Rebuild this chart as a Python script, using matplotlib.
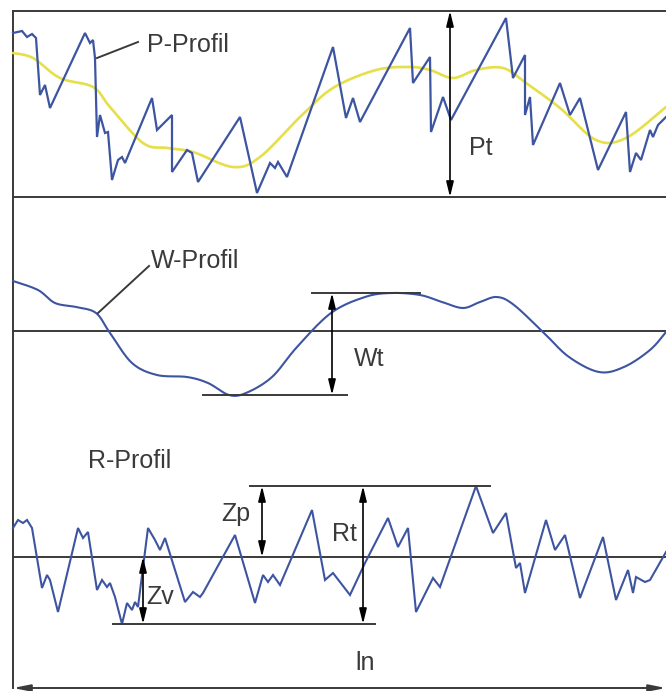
import numpy as np
import matplotlib
matplotlib.use('Agg')
import matplotlib.pyplot as plt

plt.rcParams['font.family'] = ['Liberation Sans', 'DejaVu Sans']

# ---- profile data (x along the trace, height relative to its reference line) ----
# P-profile (primary profile), height above panel floor
p_x = [13, 22, 27, 32, 36, 40, 45, 50, 85, 90, 93, 95, 97, 100, 105, 108,
       112, 118, 122, 125, 152, 157, 172, 172, 187, 192, 198, 240, 257, 270,
       275, 278, 287, 333, 346, 353, 360, 410, 413, 430, 431, 443, 451, 506,
       513, 525, 525, 530, 533, 560, 570, 580, 598, 626, 630, 636, 641, 650,
       653, 658, 666]
p_h = [164, 166, 160, 163, 159, 102, 112, 89, 164, 154, 157, 139, 60, 82, 64,
       65, 17, 37, 40, 34, 99, 67, 82, 25, 47, 44, 15, 80, 4, 34, 29, 35, 20,
       150, 79, 99, 75, 169, 114, 140, 65, 100, 77, 179, 119, 142, 82, 100, 52,
       114, 82, 99, 27, 85, 25, 44, 37, 67, 60, 72, 80]

# yellow mean / waviness line drawn in the P panel
pm_x = [13, 33, 60, 93, 110, 143, 167, 193, 233, 260, 300, 333, 376, 410,
        430, 453, 476, 503, 526, 560, 596, 626, 666]
pm_h = [144, 139, 119, 110, 90, 54, 49, 45, 30, 40, 80, 109, 127, 130, 127,
        119, 127, 129, 114, 89, 57, 59, 90]

# W-profile (waviness), height relative to mean line
w_x = [13, 38, 55, 76, 96, 110, 132, 157, 187, 208, 229, 246, 272, 297, 331,
       365, 391, 420, 442, 463, 480, 497, 514, 544, 569, 599, 624, 650, 666]
w_h = [50, 41, 28, 24, 18, -2, -32, -44, -46, -52, -64, -62, -46, -16, 18,
       34, 38, 36, 29, 23, 29, 34, 26, -2, -26, -41, -36, -19, -1]

# R-profile (roughness), height relative to mean line
r_x = [13, 18, 23, 27, 32, 42, 47, 50, 58, 78, 83, 88, 97, 102, 107, 110, 115,
       122, 127, 132, 135, 138, 148, 155, 160, 165, 185, 193, 200, 203, 235,
       255, 263, 268, 273, 280, 312, 325, 333, 350, 365, 388, 398, 408, 416,
       433, 440, 476, 493, 506, 516, 520, 525, 546, 555, 565, 580, 603, 616,
       628, 633, 636, 645, 650, 666]
r_h = [29, 37, 34, 37, 29, -31, -18, -23, -55, 29, 19, 25, -33, -23, -30, -26,
       -40, -67, -46, -53, -45, -50, 29, 17, 7, 19, -45, -35, -40, -36, 22,
       -46, -18, -25, -18, -28, 47, -23, -16, -38, -6, 39, 10, 29, -55, -21,
       -30, 71, 24, 44, -11, -6, -36, 37, 7, 22, -41, 20, -43, -13, -36, -20,
       -25, -23, 5]

# characteristic heights
pt_top, pt_bottom = 186, 0          # P panel: full height
wt_top, wt_bottom = 38, -64         # W: peak / valley
rp_top, rv_bottom = 71, -67         # R: highest peak / deepest valley

# ---- layout (pixel frame of the 666x691 picture) ----
W_PX, H_PX = 666, 691
LEFT, RIGHT = 13, 666
TOP = 11
P_FLOOR = 197
W_MEAN = 331
R_MEAN = 557
LN_Y = 688

BLUE = '#3d55a0'
YELLOW = '#e6df4a'
INK = '#3a3a3a'


def smooth(x, y, n=12):
    """Catmull-Rom pass through the read points, for drawing only."""
    x = np.asarray(x, float)
    y = np.asarray(y, float)
    px = np.concatenate([[x[0]], x, [x[-1]]])
    py = np.concatenate([[y[0]], y, [y[-1]]])
    xs, ys = [], []
    t = np.linspace(0, 1, n, endpoint=False)
    for i in range(1, len(px) - 2):
        for arr, out in ((px, xs), (py, ys)):
            p0, p1, p2, p3 = arr[i - 1], arr[i], arr[i + 1], arr[i + 2]
            out.extend(0.5 * (2 * p1 + (-p0 + p2) * t
                              + (2 * p0 - 5 * p1 + 4 * p2 - p3) * t ** 2
                              + (-p0 + 3 * p1 - 3 * p2 + p3) * t ** 3))
    xs.append(x[-1])
    ys.append(y[-1])
    return np.array(xs), np.array(ys)


def darrow(ax, x, y0, y1):
    ax.annotate('', xy=(x, y0), xytext=(x, y1),
                arrowprops=dict(arrowstyle='<|-|>,head_length=0.9,head_width=0.22',
                                color='black', lw=1.2, shrinkA=0, shrinkB=0))


fig = plt.figure(figsize=(W_PX / 100, H_PX / 100), dpi=100)
ax = fig.add_axes([0, 0, 1, 1])
ax.set_xlim(0, W_PX)
ax.set_ylim(H_PX, 0)
ax.axis('off')

lk = dict(color=INK, lw=1.4)
txt = dict(fontsize=18, color=INK, va='center', ha='left')

# frame lines
ax.plot([LEFT, LEFT], [TOP, LN_Y], **lk)
ax.plot([LEFT, RIGHT], [TOP, TOP], **lk)
ax.plot([LEFT, RIGHT], [P_FLOOR, P_FLOOR], **lk)

# --- P panel ---
sx, sy = smooth(pm_x, pm_h)
ax.plot(sx, P_FLOOR - sy, color=YELLOW, lw=1.9, solid_capstyle='round')
ax.plot(p_x, P_FLOOR - np.array(p_h), color=BLUE, lw=1.6, solid_joinstyle='miter')
darrow(ax, 450, P_FLOOR - pt_top, P_FLOOR - pt_bottom)
ax.text(469, 148, 'Pt', **txt)
ax.plot([138, 97], [42, 58], **lk)
ax.text(147, 45, 'P-Profil', **txt)

# --- W panel ---
ax.plot([LEFT, RIGHT], [W_MEAN, W_MEAN], **lk)
sx, sy = smooth(w_x, w_h)
ax.plot(sx, W_MEAN - sy, color=BLUE, lw=1.5)
ax.plot([312, 420], [W_MEAN - wt_top] * 2, **lk)
ax.plot([203, 347], [W_MEAN - wt_bottom] * 2, **lk)
darrow(ax, 332, W_MEAN - wt_top, W_MEAN - wt_bottom)
ax.text(354, 359, 'Wt', **txt)
ax.plot([149, 98], [266, 313], **lk)
ax.text(151, 261, 'W-Profil', **txt)

# --- R panel ---
ax.plot([LEFT, RIGHT], [R_MEAN, R_MEAN], **lk)
ax.plot(r_x, R_MEAN - np.array(r_h), color=BLUE, lw=1.5, solid_joinstyle='miter')
ax.plot([250, 490], [R_MEAN - rp_top] * 2, **lk)
ax.plot([113, 375], [R_MEAN - rv_bottom] * 2, **lk)
darrow(ax, 262, R_MEAN - rp_top, R_MEAN)
darrow(ax, 143, R_MEAN, R_MEAN - rv_bottom)
darrow(ax, 363, R_MEAN - rp_top, R_MEAN - rv_bottom)
ax.text(221, 514, 'Zp', **txt)
ax.text(146, 597, 'Zv', **txt)
ax.text(332, 534, 'Rt', **txt)
ax.text(88, 461, 'R-Profil', **txt)

# evaluation length
ax.annotate('', xy=(LEFT, LN_Y), xytext=(RIGHT, LN_Y),
            arrowprops=dict(arrowstyle='<|-|>,head_length=1.0,head_width=0.2',
                            color=INK, lw=1.4, shrinkA=0, shrinkB=0))
ax.text(355, 663, 'ln', **txt)

fig.savefig('out.png', dpi=100, facecolor='white')
